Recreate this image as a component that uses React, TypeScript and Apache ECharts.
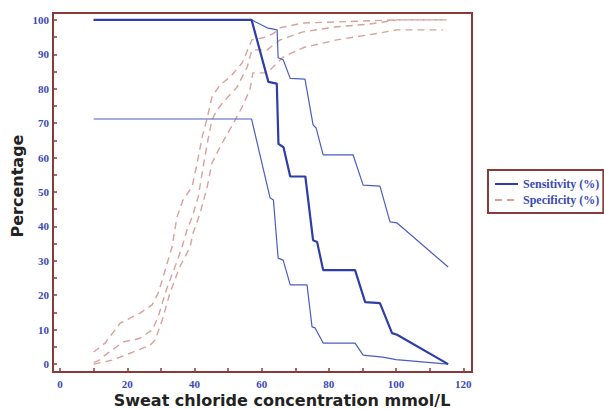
import React, { useEffect, useRef } from "react";
import * as echarts from "echarts";

const xTickValues = [0, 10, 20, 30, 40, 50, 60, 70, 80, 90, 100, 110, 120];
const xLabelValues = [0, 20, 40, 60, 80, 100, 120];
const yTickValues = [0, 5, 10, 15, 20, 25, 30, 35, 40, 45, 50, 55, 60, 65, 70, 75, 80, 85, 90, 95, 100];
const yLabelValues = [0, 10, 20, 30, 40, 50, 60, 70, 80, 90, 100];

const sensitivity: number[][] = [
  [10, 100], [57, 100], [62, 82], [64.5, 81.5], [65, 64], [66.5, 63], [68.5, 54.5], [73, 54.5],
  [75.3, 36], [76.5, 35.5], [78.3, 27.3], [87.8, 27.3], [90.8, 18], [95.2, 17.7], [98.8, 9],
  [100.3, 8.5], [115.5, 0],
];
const sensitivityUpper: number[][] = [
  [10, 100], [57, 100], [61.6, 97.7], [64.6, 97.1], [64.9, 89], [66.4, 88.4], [68.5, 83],
  [72.9, 82.8], [75.3, 69.5], [76.2, 68.6], [78.3, 60.8], [87.2, 60.8], [90.2, 52], [95.2, 51.7],
  [98.2, 41.3], [100.3, 41], [115.5, 28.2],
];
const sensitivityLower: number[][] = [
  [10, 71.2], [57, 71.2], [62.5, 48.3], [63.5, 47.7], [64.9, 30.8], [66.4, 30.2], [68.5, 23],
  [73.5, 23], [75, 10.8], [75.9, 10.5], [78.3, 6.1], [87.8, 6.1], [90.2, 2.6], [96, 2],
  [100, 1.3], [115.5, 0],
];
const specificity: number[][] = [
  [10, 0.5], [11.5, 1], [13.4, 2.6], [18.8, 6.4], [23.8, 7.5], [27.4, 9.9], [29.2, 13.7],
  [31.3, 20.6], [32.7, 24.4], [34.5, 29], [36.3, 34], [37.8, 39], [39.3, 42.7], [41.1, 48.5],
  [42.6, 57.3], [44, 65.1], [45.2, 70.9], [46.7, 73.8], [49.1, 76.7], [52.7, 80.5], [55.7, 86.3],
  [57.1, 91.3], [61.6, 91.3], [65.5, 94.2], [72.3, 96.5], [82.4, 98], [92.3, 98.8], [100.3, 100],
  [115, 100],
];
const specificityUpper: number[][] = [
  [10, 3.5], [13.4, 6.1], [17.9, 11.9], [23.8, 14.8], [27.4, 17.2], [29.2, 20.6], [30.4, 24.4],
  [31.8, 29], [33.3, 34], [34.8, 42.7], [36.6, 47.7], [39.3, 51.5], [40.8, 58.4], [42.3, 66],
  [43.8, 71.5], [45.2, 77.6], [47.6, 81.1], [50.6, 83.4], [54.2, 87.5], [57.1, 94.2], [60.4, 94.8],
  [63.5, 96], [65.5, 97.7], [72.3, 99.1], [82.4, 99.4], [100.3, 100], [115, 100],
];
const specificityLower: number[][] = [
  [10, 0], [13, 0.6], [15.8, 1.2], [21.7, 3.5], [26.8, 5.5], [28.3, 7], [30.4, 12.8], [32.7, 20.6],
  [35.5, 28], [38.7, 34], [39.6, 38.1], [41.7, 43.9], [43.8, 51.5], [45.2, 58.4], [47.6, 63.1],
  [50, 67.2], [52.1, 70.9], [54.2, 74.7], [56.5, 79.7], [57.4, 84.6], [61.6, 84.6], [66.4, 89.2],
  [72.3, 91.9], [82.4, 94.2], [95.2, 96.2], [100.3, 97.1], [114, 97.1],
];

const SENS_NAME = "Sensitivity (%)";
const SPEC_NAME = "Specificity (%)";

const frameColor = "#8b3a3a";
const labelBlue = "#3a4ab5";
const sensColor = "#2e3ea8";
const sensCiColor = "#4b5cc2";
const specColor = "#d6a29b";

export default function App() {
  const ref = useRef<HTMLDivElement>(null);
  useEffect(() => {
    document.body.style.margin = "0";
    if (!ref.current) return;
    const chart = echarts.init(ref.current, undefined, { renderer: "svg" });
    const sensLine = (name: string, data: number[][], main: boolean) => ({
      type: "line",
      name,
      data,
      symbol: "none",
      showSymbol: false,
      silent: true,
      z: main ? 4 : 3,
      lineStyle: { color: main ? sensColor : sensCiColor, width: main ? 2.2 : 1.2 },
      itemStyle: { color: main ? sensColor : sensCiColor },
    });
    const specLine = (name: string, data: number[][]) => ({
      type: "line",
      name,
      data,
      symbol: "none",
      showSymbol: false,
      silent: true,
      z: 2,
      lineStyle: { color: specColor, width: 1.4, type: [7, 5] },
      itemStyle: { color: specColor },
    });
    chart.setOption({
      animation: false,
      backgroundColor: "#ffffff",
      grid: {
        left: 53,
        top: 13,
        right: 132,
        bottom: 37,
        show: true,
        borderColor: frameColor,
        borderWidth: 2,
        backgroundColor: "transparent",
      },
      legend: {
        orient: "vertical",
        left: 488,
        top: 170,
        itemWidth: 23,
        itemHeight: 10,
        itemGap: 4,
        padding: [8, 4, 7, 6],
        borderColor: frameColor,
        borderWidth: 2,
        backgroundColor: "#ffffff",
        data: [SENS_NAME, SPEC_NAME],
        itemStyle: { color: "rgba(0,0,0,0)", borderColor: "rgba(0,0,0,0)", borderWidth: 0 },
        textStyle: {
          color: labelBlue,
          fontFamily: "Liberation Serif",
          fontWeight: "bold",
          fontSize: 12,
        },
      },
      xAxis: {
        type: "value",
        min: -2.1,
        max: 122.6,
        axisLine: { show: true, onZero: false, lineStyle: { color: frameColor, width: 2 } },
        axisTick: {
          show: true,
          inside: true,
          length: 4,
          customValues: xTickValues,
          lineStyle: { color: frameColor, width: 1.5 },
        },
        axisLabel: {
          customValues: xLabelValues,
          color: labelBlue,
          fontFamily: "Liberation Serif",
          fontWeight: "bold",
          fontSize: 11,
          margin: 6,
        },
        splitLine: { show: false },
      },
      yAxis: {
        type: "value",
        min: -2.3,
        max: 102,
        axisLine: { show: true, onZero: false, lineStyle: { color: frameColor, width: 2 } },
        axisTick: {
          show: true,
          inside: true,
          length: 4,
          customValues: yTickValues,
          lineStyle: { color: frameColor, width: 1.5 },
        },
        axisLabel: {
          customValues: yLabelValues,
          color: labelBlue,
          fontFamily: "Liberation Serif",
          fontWeight: "bold",
          fontSize: 11,
          margin: 4,
        },
        splitLine: { show: false },
      },
      graphic: [
        {
          type: "text",
          x: 17,
          y: 186,
          rotation: Math.PI / 2,
          style: {
            text: "Percentage",
            font: "bold 16px 'DejaVu Sans'",
            fill: "#222222",
            align: "center",
            verticalAlign: "middle",
          },
        },
        {
          type: "text",
          x: 282,
          y: 400,
          style: {
            text: "Sweat chloride concentration mmol/L",
            font: "bold 16px 'DejaVu Sans'",
            fill: "#222222",
            align: "center",
            verticalAlign: "middle",
          },
        },
      ],
      series: [
        specLine(SPEC_NAME, specificity),
        specLine(SPEC_NAME, specificityUpper),
        specLine(SPEC_NAME, specificityLower),
        sensLine(SENS_NAME, sensitivity, true),
        sensLine(SENS_NAME, sensitivityUpper, false),
        sensLine(SENS_NAME, sensitivityLower, false),
      ],
    });
    return () => chart.dispose();
  }, []);
  return <div ref={ref} style={{ width: 604, height: 409 }} />;
}
